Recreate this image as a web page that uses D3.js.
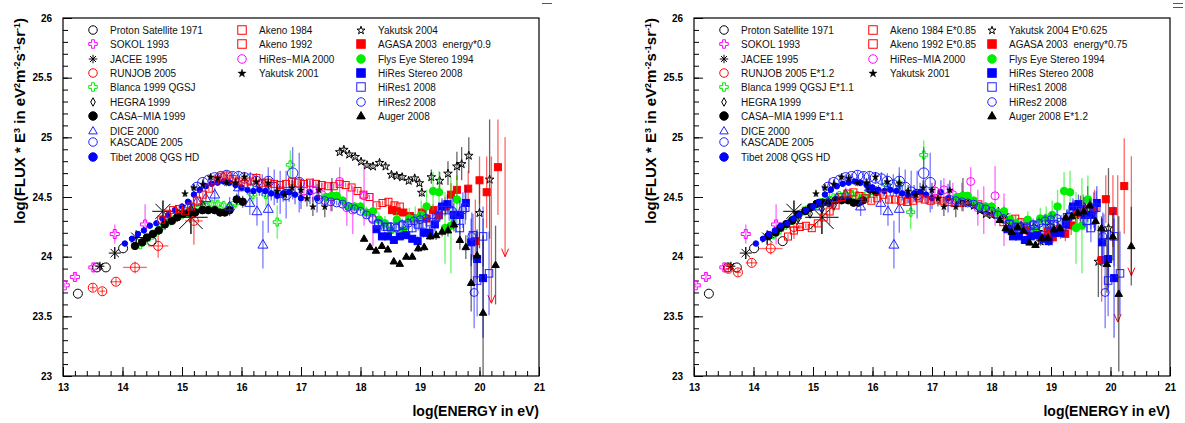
<!DOCTYPE html>
<html>
<head>
<meta charset="utf-8">
<script src="https://cdn.jsdelivr.net/npm/d3@7"></script>
<style>
body{margin:0;background:#fff;}
svg text{font-family:"Liberation Sans",Arial,Helvetica,sans-serif;white-space:pre;}
</style>
</head>
<body>
<div id="grafica"></div>
<script>
const protonSat = [[13.25,23.69,0],[13.57,23.91,0],[13.72,23.91,0],[14.01,24.07,0],[14.49,24.13,0]];
const sokol = [[13.03,23.76,0.02],[13.2,23.83,0.03],[13.51,23.91,0.04],[13.87,24.19,0.08],[14.38,24.27,0.17]];
const jacee = [[13.62,23.92,0.03],[13.87,24.03,0.05],[14.23,24.16,0.06],[14.68,24.38,0.09],[15.15,24.33,0.14]];
const runjob = [[13.5,23.74,0.03,0.05],[13.66,23.71,0.03,0.05],[13.89,23.79,0.03,0.1],[14.21,23.91,0.05,0.2],[14.6,24.09,0.1,0.17],[15.2,24.3,0.2,0.15]];
const blanca = [[14.3,24.10,0.02],[14.4,24.14,0.02],[14.5,24.18,0.02],[14.6,24.22,0.02],[14.7,24.26,0.02],[14.8,24.30,0.02],[14.9,24.33,0.02],[15.0,24.35,0.02],[15.1,24.37,0.02],[15.2,24.39,0.02],[15.3,24.41,0.02],[15.4,24.43,0.02],[15.5,24.44,0.03],[15.6,24.44,0.03],[15.7,24.43,0.03],[15.8,24.42,0.04],[15.9,24.45,0.05],[16.19,24.52,0.08],[16.41,24.52,0.1],[16.6,24.29,0.14],[16.82,24.77,0.12]];
const hegra = [[14.75,24.32,0.03],[14.95,24.36,0.03],[15.15,24.40,0.04],[15.35,24.43,0.05]];
const casaMia = [[14.21,24.09,0.01],[14.33,24.12,0.01],[14.41,24.16,0.01],[14.51,24.19,0.01],[14.61,24.22,0.01],[14.71,24.27,0.01],[14.83,24.30,0.01],[14.92,24.33,0.01],[15.02,24.36,0.01],[15.12,24.37,0.02],[15.22,24.37,0.02],[15.34,24.39,0.02],[15.44,24.39,0.02],[15.55,24.39,0.02],[15.64,24.37,0.03],[15.72,24.37,0.03],[15.8,24.39,0.04],[15.92,24.48,0.05],[16.02,24.46,0.05]];
const dice = [[15.1,24.42,0.03],[15.25,24.46,0.04],[15.4,24.49,0.05],[15.55,24.52,0.06],[15.8,24.42,0.08],[15.95,24.58,0.08],[16.14,24.45,0.1],[16.26,24.38,0.12],[16.36,24.10,0.2],[16.45,24.40,0.2]];
const kascade = [[15.25,24.58,0.03],[15.35,24.62,0.03],[15.45,24.64,0.03],[15.55,24.66,0.03],[15.65,24.67,0.03],[15.75,24.68,0.04],[15.85,24.67,0.04],[15.95,24.67,0.05],[16.05,24.66,0.05],[16.15,24.65,0.06],[16.25,24.63,0.07],[16.35,24.60,0.09],[16.45,24.63,0.12],[16.55,24.58,0.15],[16.65,24.54,0.18],[16.75,24.52,0.2],[16.86,24.70,0.22],[16.97,24.62,0.25]];
const tibet = [[14.04,24.11,0.01],[14.16,24.15,0.01],[14.26,24.19,0.01],[14.36,24.22,0.01],[14.46,24.26,0.01],[14.57,24.28,0.01],[14.67,24.32,0.01],[14.77,24.35,0.01],[14.88,24.39,0.01],[15.0,24.42,0.01],[15.1,24.46,0.01],[15.2,24.52,0.02],[15.3,24.56,0.02],[15.4,24.59,0.02],[15.5,24.61,0.02],[15.6,24.62,0.02],[15.7,24.63,0.02],[15.8,24.62,0.03],[15.9,24.60,0.03],[16.0,24.58,0.03],[16.1,24.56,0.04],[16.2,24.55,0.04],[16.3,24.56,0.05],[16.4,24.55,0.05],[16.5,24.53,0.06],[16.6,24.51,0.06],[16.7,24.53,0.07],[16.8,24.54,0.08],[16.9,24.52,0.08],[17.0,24.49,0.09],[17.15,24.54,0.1],[17.27,24.49,0.12]];
const akeno1984 = [[14.65,24.31,0.02],[14.75,24.36,0.02],[14.85,24.39,0.02],[14.95,24.40,0.02],[15.05,24.38,0.02],[15.15,24.42,0.02],[15.25,24.47,0.02],[15.35,24.52,0.02],[15.45,24.57,0.02],[15.55,24.64,0.02],[15.65,24.67,0.02],[15.75,24.68,0.02],[15.85,24.65,0.02],[15.95,24.63,0.02],[16.05,24.61,0.02],[16.15,24.63,0.02],[16.25,24.66,0.02],[16.35,24.62,0.02],[16.45,24.62,0.02],[16.55,24.61,0.02],[16.65,24.60,0.02],[16.75,24.61,0.02],[16.85,24.63,0.02],[16.95,24.62,0.02],[17.05,24.61,0.02],[17.15,24.62,0.02],[17.25,24.61,0.02],[17.35,24.60,0.02],[17.45,24.59,0.02],[17.55,24.59,0.02]];
const akeno1992 = [[17.65,24.61,0.02],[17.75,24.60,0.02],[17.85,24.58,0.02],[17.95,24.55,0.02],[18.05,24.52,0.02],[18.15,24.50,0.02],[18.27,24.43,0.02],[18.37,24.45,0.02],[18.47,24.46,0.03],[18.57,24.43,0.03],[18.66,24.42,0.03]];
const hiresMia = [[17.05,24.55,0.08],[17.2,24.56,0.1],[17.35,24.52,0.1],[17.5,24.50,0.12],[17.65,24.63,0.12],[17.77,24.41,0.15],[17.87,24.39,0.2],[18.06,24.51,0.25],[18.21,24.31,0.22]];
const yakutsk2001 = [[15.05,24.53,0.03],[15.2,24.58,0.03],[15.35,24.61,0.03],[15.48,24.67,0.03],[15.6,24.66,0.03],[15.75,24.62,0.03],[15.9,24.62,0.04],[16.05,24.67,0.04],[16.25,24.63,0.04],[16.45,24.62,0.05],[16.6,24.55,0.05],[16.73,24.52,0.05],[16.85,24.58,0.06],[17.0,24.56,0.06],[17.1,24.49,0.07],[17.2,24.42,0.08],[17.3,24.56,0.08],[17.4,24.42,0.09],[17.52,24.52,0.14]];
const yakutsk2004 = [[17.65,24.88,0.02],[17.72,24.90,0.02],[17.81,24.86,0.02],[17.91,24.84,0.02],[18.01,24.80,0.02],[18.11,24.77,0.02],[18.21,24.76,0.02],[18.32,24.79,0.02],[18.42,24.76,0.02],[18.52,24.69,0.02],[18.61,24.68,0.02],[18.70,24.67,0.03],[18.81,24.64,0.03],[18.91,24.66,0.03],[18.99,24.62,0.03],[19.03,24.54,0.04],[19.19,24.67,0.06],[19.33,24.64,0.07],[19.47,24.70,0.1],[19.62,24.76,0.12],[19.70,24.78,0.14],[19.82,24.85,0.15],[20.0,24.37,0.3],[20.17,24.65,0.5]];
const agasa = [[18.53,24.39,0.02],[18.61,24.38,0.02],[18.72,24.37,0.03],[18.83,24.34,0.03],[18.92,24.32,0.03],[19.03,24.37,0.04],[19.11,24.32,0.05],[19.22,24.39,0.05],[19.32,24.35,0.06],[19.42,24.42,0.08],[19.52,24.52,0.1],[19.62,24.56,0.12],[19.81,24.57,0.15],[19.93,24.13,0.35],[20.0,24.64,0.2],[20.12,24.54,0.3],[20.31,24.75,0.4]];
const agasaLimites = [[20.2,24.84,23.61],[20.43,25.0,24.0]]; // [log E, extremo superior, punta de flecha]
const flysEye = [[17.42,24.50,0.03],[17.52,24.51,0.03],[17.6,24.51,0.03],[17.7,24.47,0.03],[17.8,24.42,0.04],[17.9,24.42,0.04],[18.0,24.42,0.04],[18.1,24.37,0.05],[18.21,24.38,0.05],[18.31,24.31,0.06],[18.41,24.28,0.06],[18.51,24.22,0.07],[18.61,24.31,0.07],[18.72,24.22,0.08],[18.82,24.32,0.09],[18.92,24.32,0.1],[19.02,24.35,0.12],[19.11,24.42,0.14],[19.22,24.55,0.16],[19.32,24.54,0.18],[19.42,24.24,0.3],[19.52,24.26,0.4],[19.62,24.48,0.2]];
const hiresStereo = [[18.27,24.23,0.02],[18.36,24.17,0.02],[18.46,24.17,0.02],[18.56,24.14,0.02],[18.66,24.17,0.03],[18.77,24.18,0.03],[18.87,24.15,0.03],[18.96,24.13,0.04],[19.06,24.20,0.04],[19.16,24.20,0.05],[19.25,24.27,0.06],[19.37,24.42,0.07],[19.46,24.44,0.08],[19.57,24.35,0.1],[19.67,24.35,0.12],[19.77,24.45,0.14],[19.86,24.12,0.2],[19.96,23.98,0.25],[20.06,23.82,0.5]];
const hires1 = [[18.3,24.27,0.03],[18.45,24.25,0.03],[18.58,24.25,0.03],[18.72,24.26,0.04],[18.87,24.24,0.04],[18.97,24.27,0.05],[19.05,24.27,0.05],[19.17,24.29,0.06],[19.27,24.33,0.07],[19.37,24.39,0.08],[19.49,24.39,0.09],[19.6,24.30,0.1],[19.67,24.24,0.12],[19.76,24.41,0.14],[19.89,24.18,0.18],[19.96,23.80,0.3],[20.06,24.17,0.25],[20.16,23.86,0.35]];
const hires2 = [[17.3,24.48,0.02],[17.4,24.47,0.02],[17.5,24.46,0.02],[17.6,24.45,0.02],[17.7,24.44,0.02],[17.8,24.42,0.02],[17.9,24.40,0.02],[18.0,24.38,0.02],[18.1,24.35,0.03],[18.2,24.32,0.03],[18.3,24.28,0.03],[18.4,24.25,0.03],[18.5,24.25,0.04],[18.6,24.24,0.04],[18.7,24.27,0.05],[18.8,24.28,0.05],[18.9,24.30,0.06],[19.0,24.31,0.06],[19.1,24.32,0.07],[19.3,24.34,0.09],[19.55,24.38,0.12],[19.72,24.39,0.15],[19.87,24.17,0.2],[19.91,23.70,0.3]];
const auger = [[18.06,24.15,0.02],[18.16,24.08,0.02],[18.26,24.05,0.02],[18.36,24.09,0.02],[18.46,24.06,0.02],[18.56,23.96,0.02],[18.66,23.94,0.02],[18.77,24.00,0.02],[18.87,24.00,0.02],[18.97,24.07,0.03],[19.07,24.08,0.03],[19.17,24.17,0.03],[19.27,24.18,0.04],[19.37,24.21,0.04],[19.47,24.22,0.05],[19.57,24.27,0.06],[19.67,24.14,0.08],[19.77,24.08,0.1],[19.86,23.78,0.24],[19.96,24.01,0.2],[20.06,23.53,0.65],[20.27,23.93,0.33]];

// Marcas de los ejes
const ticksX = [13,14,15,16,17,18,19,20,21];
const ticksY = [23,23.5,24,24.5,25,25.5,26];

var ancho = 476, alto = 358, arriba = 18;
var paneles = [63, 694];

var series = [
	{datos:protonSat, nombre:["Proton Satellite 1971","Proton Satellite 1971"], escala:[1,1], marca:"ocircle", color:"#000000", tam:9, col:0, fila:0},
	{datos:sokol, nombre:["SOKOL 1993","SOKOL 1993"], escala:[1,1], marca:"ocross", color:"#ff00ff", tam:9, col:0, fila:1},
	{datos:jacee, nombre:["JACEE 1995","JACEE 1995"], escala:[1,1], marca:"asterisk", color:"#000000", tam:9, col:0, fila:2},
	{datos:runjob, nombre:["RUNJOB 2005","RUNJOB 2005 E*1.2"], escala:[1,1.2], marca:"ocircle", color:"#ff0000", tam:9, col:0, fila:3},
	{datos:blanca, nombre:["Blanca 1999 QGSJ","Blanca 1999 QGSJ E*1.1"], escala:[1,1.1], marca:"ocross", color:"#00ee00", tam:8, col:0, fila:4},
	{datos:hegra, nombre:["HEGRA 1999","HEGRA 1999"], escala:[1,1], marca:"diamond", color:"#000000", tam:9, col:0, fila:5},
	{datos:casaMia, nombre:["CASA\u2212MIA 1999","CASA\u2212MIA 1999 E*1.1"], escala:[1,1.1], marca:"fcircle", color:"#000000", tam:7.5, col:0, fila:6},
	{datos:dice, nombre:["DICE 2000","DICE 2000"], escala:[1,1], marca:"otri", color:"#2222ff", tam:10, col:0, fila:7},
	{datos:kascade, nombre:["KASCADE 2005","KASCADE 2005"], escala:[1,1], marca:"ocircle", color:"#2222ff", tam:10.5, col:0, fila:8},
	{datos:tibet, nombre:["Tibet 2008 QGS HD","Tibet 2008 QGS HD"], escala:[1,1], marca:"fcircle", color:"#0000ff", tam:5.5, col:0, fila:9},
	{datos:akeno1984, nombre:["Akeno 1984","Akeno 1984 E*0.85"], escala:[1,0.85], marca:"osquare", color:"#ff0000", tam:7, col:1, fila:0},
	{datos:akeno1992, nombre:["Akeno 1992","Akeno 1992 E*0.85"], escala:[1,0.85], marca:"osquare", color:"#ff0000", tam:7, col:1, fila:1},
	{datos:hiresMia, nombre:["HiRes\u2212MIA 2000","HiRes\u2212MIA 2000"], escala:[1,1], marca:"ocircle", color:"#ff00ff", tam:8, col:1, fila:2},
	{datos:yakutsk2001, nombre:["Yakutsk 2001","Yakutsk 2001"], escala:[1,1], marca:"fstar", color:"#000000", tam:7, col:1, fila:3},
	{datos:yakutsk2004, nombre:["Yakutsk 2004","Yakutsk 2004 E*0.625"], escala:[1,0.625], marca:"ostar", color:"#000000", tam:9, col:2, fila:0},
	{datos:agasa, nombre:["AGASA 2003  energy*0.9","AGASA 2003  energy*0.75"], escala:[0.9,0.75], marca:"fsquare", color:"#ff0000", tam:7, col:2, fila:1, limites:agasaLimites},
	{datos:flysEye, nombre:["Flys Eye Stereo 1994","Flys Eye Stereo 1994"], escala:[1,1], marca:"fcircle", color:"#00ee00", tam:7.5, col:2, fila:2},
	{datos:hiresStereo, nombre:["HiRes Stereo 2008","HiRes Stereo 2008"], escala:[1,1], marca:"fsquare", color:"#0000ff", tam:7, col:2, fila:3},
	{datos:hires1, nombre:["HiRes1 2008","HiRes1 2008"], escala:[1,1], marca:"osquare", color:"#2222ff", tam:7.5, col:2, fila:4},
	{datos:hires2, nombre:["HiRes2 2008","HiRes2 2008"], escala:[1,1], marca:"ocircle", color:"#2222ff", tam:8, col:2, fila:5},
	{datos:auger, nombre:["Auger 2008","Auger 2008 E*1.2"], escala:[1,1.2], marca:"ftri", color:"#000000", tam:7.5, col:2, fila:6}
];

// Posicion de la leyenda (relativa al marco)
var legCol = [30, 179, 298];
var legFilas = [[12,26,41,55,69,84,98,113,124,139],[12,26,41,55],[12,26,41,55,69,84,98]];

var svg = d3.select("#grafica").append("svg")
	.attr("width", 1185).attr("height", 423);

function marcador(g, tipo, cx, cy, s, color){
	var a = s/2;
	if(tipo=="ocircle" || tipo=="fcircle"){
		g.append("circle").attr("cx",cx).attr("cy",cy).attr("r",a)
			.attr("fill", tipo=="fcircle" ? color : "none")
			.attr("stroke",color).attr("stroke-width",1);
	} else if(tipo=="osquare" || tipo=="fsquare"){
		g.append("rect").attr("x",cx-a).attr("y",cy-a).attr("width",s).attr("height",s)
			.attr("fill", tipo=="fsquare" ? color : "none")
			.attr("stroke",color).attr("stroke-width",1);
	} else if(tipo=="otri" || tipo=="ftri"){
		g.append("path").attr("transform","translate("+cx+","+(cy+a*0.1)+")")
			.attr("d", d3.symbol(d3.symbolTriangle).size(Math.sqrt(3)/4*s*s)())
			.attr("fill", tipo=="ftri" ? color : "none")
			.attr("stroke",color).attr("stroke-width",1);
	} else if(tipo=="ostar" || tipo=="fstar"){
		g.append("path").attr("transform","translate("+cx+","+(cy+a*0.1)+")")
			.attr("d", d3.symbol(d3.symbolStar).size(s*s/3.56)())
			.attr("fill", tipo=="fstar" ? color : "none")
			.attr("stroke",color).attr("stroke-width",tipo=="fstar"?0.5:1);
	} else if(tipo=="ocross"){
		var b = s/6;
		var p = [[-b,-a],[b,-a],[b,-b],[a,-b],[a,b],[b,b],[b,a],[-b,a],[-b,b],[-a,b],[-a,-b],[-b,-b]];
		g.append("path").attr("d","M"+p.map(q=>(cx+q[0])+","+(cy+q[1])).join("L")+"Z")
			.attr("fill","none").attr("stroke",color).attr("stroke-width",1);
	} else if(tipo=="diamond"){
		g.append("path").attr("d","M"+cx+","+(cy-a)+"L"+(cx+a*0.55)+","+cy+"L"+cx+","+(cy+a)+"L"+(cx-a*0.55)+","+cy+"Z")
			.attr("fill","none").attr("stroke",color).attr("stroke-width",1);
	} else if(tipo=="asterisk"){
		var d = a*0.7;
		g.append("path").attr("d","M"+(cx-a)+","+cy+"H"+(cx+a)+"M"+cx+","+(cy-a)+"V"+(cy+a)
			+"M"+(cx-d)+","+(cy-d)+"L"+(cx+d)+","+(cy+d)+"M"+(cx-d)+","+(cy+d)+"L"+(cx+d)+","+(cy-d))
			.attr("fill","none").attr("stroke",color).attr("stroke-width",1);
	}
}

paneles.forEach(function(x0, p){
	var g = svg.append("g").attr("transform","translate("+x0+","+arriba+")");
	var escalaX = d3.scaleLinear().domain([13,21]).range([0,ancho]);
	var escalaY = d3.scaleLinear().domain([23,26]).range([alto,0]);

	g.append("clipPath").attr("id","recorte"+p)
		.append("rect").attr("width",ancho).attr("height",alto);

	//Ejes: marcas menores y mayores hacia adentro
	var ejeXmenor = g.append("g").attr("transform","translate(0,"+alto+")")
		.call(d3.axisBottom(escalaX).tickValues(d3.range(13,21.001,0.2)).tickSize(-5).tickFormat(""));
	var ejeX = g.append("g").attr("transform","translate(0,"+alto+")")
		.call(d3.axisBottom(escalaX).tickValues(ticksX).tickSize(-9).tickPadding(8).tickFormat(d3.format("d")));
	var ejeYmenor = g.append("g")
		.call(d3.axisLeft(escalaY).tickValues(d3.range(23,26.001,0.1)).tickSize(-5).tickFormat(""));
	var ejeY = g.append("g")
		.call(d3.axisLeft(escalaY).tickValues(ticksY).tickSize(-9).tickPadding(11).tickFormat(d=>String(d)));
	[ejeXmenor,ejeX,ejeYmenor,ejeY].forEach(function(e){
		e.select(".domain").remove();
		e.selectAll("line").attr("stroke","#000");
		e.selectAll("text").attr("font-size",10).attr("font-weight","bold")
			.attr("font-family","'Liberation Sans',Arial,sans-serif").attr("fill","#000");
	});

	g.append("rect").attr("width",ancho).attr("height",alto)
		.attr("fill","none").attr("stroke","#000").attr("stroke-width",1.2);

	//Datos
	var zona = g.append("g").attr("clip-path","url(#recorte"+p+")");
	series.forEach(function(s){
		var dx = Math.log10(s.escala[p]/s.escala[0]);
		var dy = 2*dx;
		var capa = zona.append("g");
		var colorErr = s.color;
		s.datos.forEach(function(d){
			var cx = escalaX(d[0]+dx), cy = escalaY(d[1]+dy);
			if(d[2]>0){
				capa.append("line").attr("x1",cx).attr("x2",cx)
					.attr("y1",escalaY(d[1]+dy-d[2])).attr("y2",escalaY(d[1]+dy+d[2]))
					.attr("stroke",colorErr).attr("stroke-opacity",0.6).attr("stroke-width",1.3);
			}
			if(d[3]>0){
				capa.append("line").attr("y1",cy).attr("y2",cy)
					.attr("x1",escalaX(d[0]+dx-d[3])).attr("x2",escalaX(d[0]+dx+d[3]))
					.attr("stroke",colorErr).attr("stroke-opacity",0.6).attr("stroke-width",1.3);
			}
		});
		if(s.limites){
			s.limites.forEach(function(l){
				var lx = escalaX(l[0]+dx), y1 = escalaY(l[1]+dy), y2 = escalaY(l[2]+dy);
				capa.append("line").attr("x1",lx).attr("x2",lx).attr("y1",y1).attr("y2",y2)
					.attr("stroke",s.color).attr("stroke-opacity",0.6).attr("stroke-width",1.3);
				capa.append("path").attr("d","M"+(lx-3.5)+","+(y2-8)+"L"+lx+","+y2+"L"+(lx+3.5)+","+(y2-8))
					.attr("fill","none").attr("stroke",s.color).attr("stroke-width",1);
			});
		}
		s.datos.forEach(function(d){
			var cx = escalaX(d[0]+dx), cy = escalaY(d[1]+dy);
			var tam = s.tam;
			if(s.marca=="asterisk") tam = Math.max(9, 2*Math.abs(escalaY(0)-escalaY(d[2])));
			marcador(capa, s.marca, cx, cy, tam, s.color);
		});
	});

	//Leyenda
	series.forEach(function(s){
		var ly = legFilas[s.col][s.fila];
		var lx = legCol[s.col];
		marcador(g, s.marca, lx, ly, 8.5, s.color);
		g.append("text").attr("x",lx+17).attr("y",ly+3.6)
			.attr("font-size",10).attr("fill","#111").text(s.nombre[p]);
	});

	//Titulos de ejes
	g.append("text").attr("x",ancho).attr("y",alto+40)
		.attr("text-anchor","end").attr("font-size",14).attr("font-weight","bold")
		.text("log(ENERGY in eV)");
	var ty = g.append("text").attr("transform","translate(-38,0) rotate(-90)")
		.attr("text-anchor","end").attr("font-size",15).attr("font-weight","bold");
	var partes = [["log(FLUX * E",0],["3",1],[" in eV",0],["2",1],["m",0],["-2",1],["s",0],["-1",1],["sr",0],["-1",1],[")",0]];
	partes.forEach(function(t){
		var ts = ty.append("tspan").text(t[0]);
		if(t[1]) ts.attr("font-size",9).attr("baseline-shift","super");
	});
});

//Pequenas rayas en la esquina superior (artefactos del lienzo)
[[542,552,3.5],[1173,1183,3.5],[1173,1183,7.5]].forEach(function(r){
	svg.append("line").attr("x1",r[0]).attr("x2",r[1]).attr("y1",r[2]).attr("y2",r[2])
		.attr("stroke","#555").attr("stroke-width",1);
});
</script>
</body>
</html>
